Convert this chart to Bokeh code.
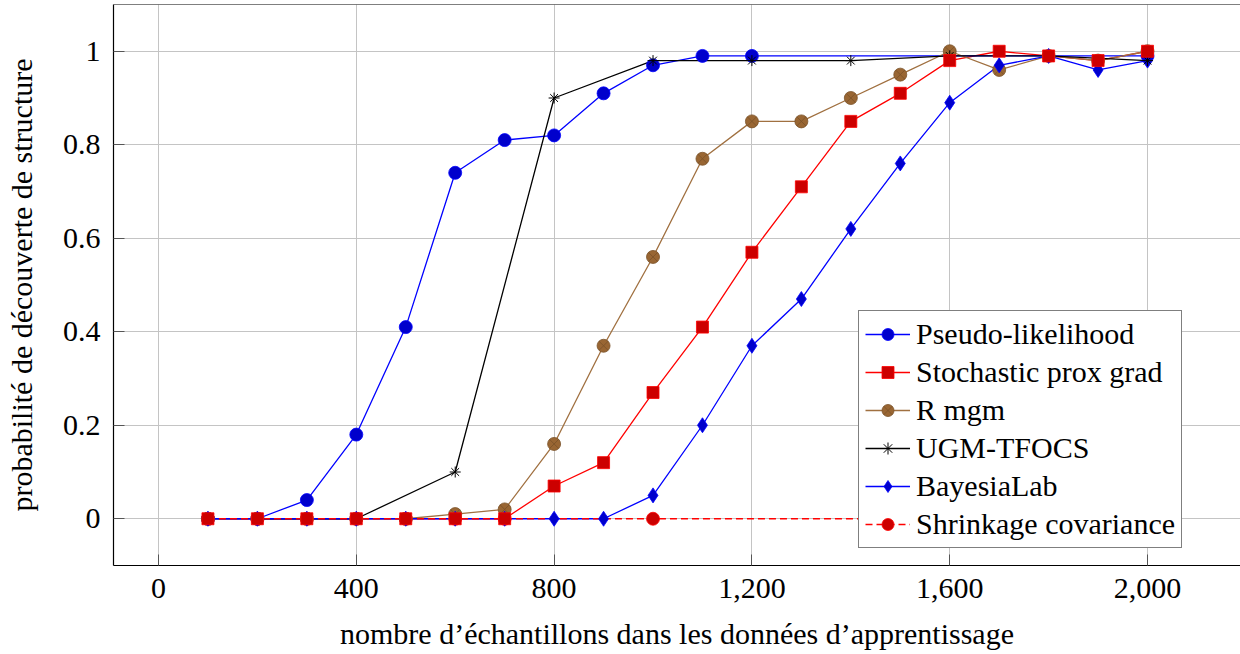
from bokeh.plotting import figure
from bokeh.models import Range1d, FixedTicker, Legend, LegendItem, Span
from bokeh.embed import file_html
from bokeh.resources import INLINE

# Training-set sizes and structure-recovery probability for each method
n_all = [100, 200, 300, 400, 500, 600, 700, 800, 900, 1000,
         1100, 1200, 1300, 1400, 1500, 1600, 1700, 1800, 1900, 2000]

pl_x = [100, 200, 300, 400, 500, 600, 700, 800, 900, 1000, 1100, 1200, 2000]
pl_y = [0, 0, 0.04, 0.18, 0.41, 0.74, 0.81, 0.82, 0.91, 0.97, 0.99, 0.99, 0.99]

spg_y = [0, 0, 0, 0, 0, 0, 0, 0.07, 0.12, 0.27,
         0.41, 0.57, 0.71, 0.85, 0.91, 0.98, 1.0, 0.99, 0.98, 1.0]

mgm_y = [0, 0, 0, 0, 0, 0.01, 0.02, 0.16, 0.37, 0.56,
         0.77, 0.85, 0.85, 0.90, 0.95, 1.0, 0.96, 0.99, 0.98, 1.0]

ugm_x = [200, 400, 600, 800, 1000, 1200, 1400, 1600, 1800, 2000]
ugm_y = [0, 0, 0.10, 0.90, 0.98, 0.98, 0.98, 0.99, 0.99, 0.98]

bay_y = [0, 0, 0, 0, 0, 0, 0, 0, 0, 0.05,
         0.20, 0.37, 0.47, 0.62, 0.76, 0.89, 0.97, 0.99, 0.96, 0.98]

shr_x = [100, 200, 300, 400, 500, 600, 700, 1000, 2000]
shr_y = [0, 0, 0, 0, 0, 0, 0, 0, 0]

x_ticks = [0, 400, 800, 1200, 1600, 2000]
x_tick_labels = ["0", "400", "800", "1,200", "1,600", "2,000"]
y_ticks = [0, 0.2, 0.4, 0.6, 0.8, 1]
y_tick_labels = ["0", "0.2", "0.4", "0.6", "0.8", "1"]

FONT = "'Liberation Serif'"
FS = "30px"

p = figure(width=1240, height=654, output_backend="svg", toolbar_location=None,
           x_range=Range1d(-91, 2188), y_range=Range1d(-0.1, 1.1),
           min_border_left=113, min_border_right=0, min_border_top=4,
           min_border_bottom=89, background_fill_color="white",
           border_fill_color="white")
p.outline_line_color = None

# grid
for g in (p.xgrid[0], p.ygrid[0]):
    g.grid_line_color = "#c4c4c4"
    g.grid_line_width = 1
p.xgrid[0].ticker = FixedTicker(ticks=x_ticks)
p.ygrid[0].ticker = FixedTicker(ticks=y_ticks)


def style_axis(ax, ticks, labels):
    ax.ticker = FixedTicker(ticks=ticks)
    ax.major_label_overrides = {t: l for t, l in zip(ticks, labels)}
    ax.minor_tick_line_color = None
    ax.major_tick_in = 11
    ax.major_tick_out = 0
    ax.major_tick_line_color = "#555555"
    ax.major_tick_line_width = 1
    ax.axis_line_color = "black"
    ax.axis_line_width = 1.2
    ax.major_label_text_font = FONT
    ax.major_label_text_color = "black"
    ax.major_label_text_font_size = FS
    ax.major_label_standoff = 13
    ax.axis_label_text_font = FONT
    ax.axis_label_text_font_style = "normal"
    ax.axis_label_text_color = "black"
    ax.axis_label_text_font_size = FS


xa = p.xaxis[0]
style_axis(xa, x_ticks, x_tick_labels)
xa.axis_label = "nombre d’échantillons dans les données d’apprentissage"
xa.axis_label_standoff = 16

ya = p.yaxis[0]
style_axis(ya, y_ticks, y_tick_labels)
ya.axis_label = "probabilité de découverte de structure"
ya.axis_label_standoff = 22
ya.major_label_orientation = "horizontal"

# top border of the axis box
p.add_layout(Span(location=1.1, dimension="width", line_color="black",
                  line_width=1.2))

LW = 1.3
BLUE, BLUE_F = "#0000ff", "#0000cc"
RED, RED_F = "#ff0000", "#cc0000"
BROWN, BROWN_F = "#a07040", "#996633"

# lines
l_spg = p.line(n_all, spg_y, line_color=RED, line_width=LW)
l_pl = p.line(pl_x, pl_y, line_color=BLUE, line_width=LW)
l_mgm = p.line(n_all, mgm_y, line_color=BROWN, line_width=LW)
l_ugm = p.line(ugm_x, ugm_y, line_color="black", line_width=LW)
l_bay = p.line(n_all, bay_y, line_color=BLUE, line_width=LW)
l_shr = p.line(shr_x, shr_y, line_color=RED, line_width=LW, line_dash="7 4")

# markers
m_shr = p.scatter(shr_x, shr_y, marker="circle", size=13,
                  fill_color=RED_F, line_color=RED, line_width=0.8)
m_pl = p.scatter(pl_x, pl_y, marker="circle", size=13,
                 fill_color=BLUE_F, line_color=BLUE, line_width=0.8)
m_mgm = p.scatter(n_all, mgm_y, marker="circle_x", size=13,
                  fill_color=BROWN_F, line_color="#7a5228", line_width=0.8)
m_bay = p.scatter(n_all, bay_y, marker="diamond", size=15,
                  fill_color=BLUE_F, line_color=BLUE, line_width=0.8)
m_ugm = p.scatter(ugm_x, ugm_y, marker="asterisk", size=11,
                  fill_color=None, line_color="black", line_width=1)
m_spg = p.scatter(n_all, spg_y, marker="square", size=12,
                  fill_color=RED_F, line_color=RED, line_width=0.8)

legend = Legend(items=[
    LegendItem(label="Pseudo-likelihood", renderers=[l_pl, m_pl]),
    LegendItem(label="Stochastic prox grad", renderers=[l_spg, m_spg]),
    LegendItem(label="R mgm", renderers=[l_mgm, m_mgm]),
    LegendItem(label="UGM-TFOCS", renderers=[l_ugm, m_ugm]),
    LegendItem(label="BayesiaLab", renderers=[l_bay, m_bay]),
    LegendItem(label="Shrinkage covariance", renderers=[l_shr, m_shr]),
], location=(745, 17))
legend.label_text_font = FONT
legend.label_text_font_size = FS
legend.label_text_color = "black"
legend.label_standoff = 6
legend.label_height = 30
legend.glyph_height = 30
legend.glyph_width = 45
legend.spacing = 4
legend.padding = 6
legend.margin = 0
legend.border_line_color = "black"
legend.border_line_width = 1.2
legend.background_fill_alpha = 1
p.add_layout(legend, "center")

open("out.html", "w").write(file_html(p, INLINE))
